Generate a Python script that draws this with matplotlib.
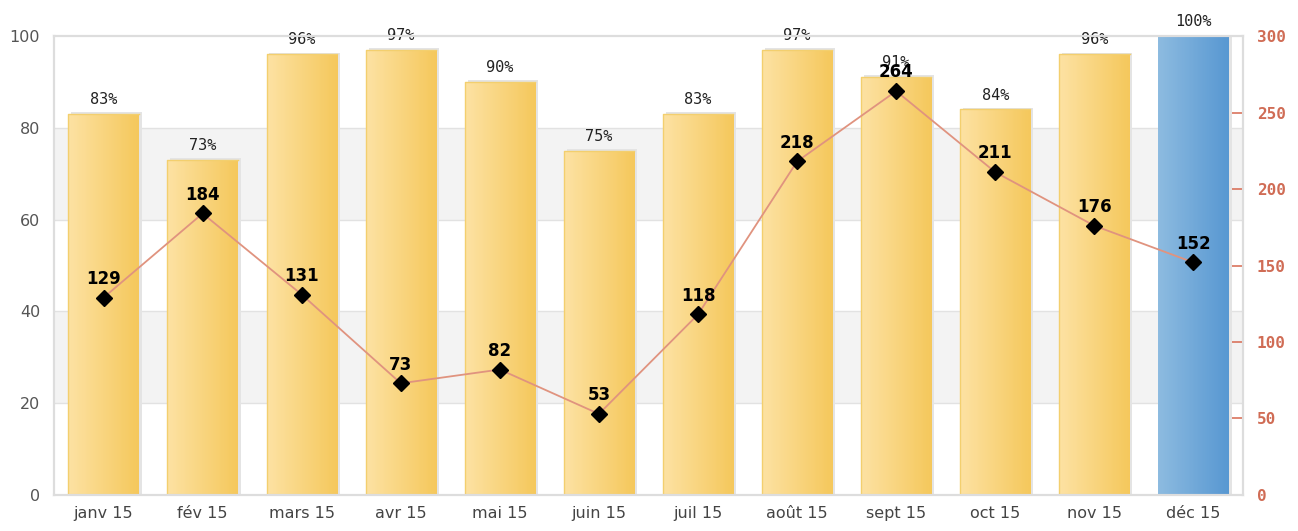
import matplotlib
matplotlib.use('Agg')
import matplotlib.pyplot as plt
import numpy as np

# data
months = ['janv 15', 'fév 15', 'mars 15', 'avr 15', 'mai 15', 'juin 15',
          'juil 15', 'août 15', 'sept 15', 'oct 15', 'nov 15', 'déc 15']
pct = [83, 73, 96, 97, 90, 75, 83, 97, 91, 84, 96, 100]
counts = [129, 184, 131, 73, 82, 53, 118, 218, 264, 211, 176, 152]

fig = plt.figure(figsize=(12.98, 5.31), dpi=100)
ax = fig.add_axes([0.0416, 0.0678, 0.9160, 0.8644])
x = np.arange(len(months))
W = 0.71

# alternating bands
for lo in (20, 60):
    ax.axhspan(lo, lo + 20, color='#f3f3f3', zorder=0, lw=0)
for y in (20, 40, 60, 80):
    ax.axhline(y, color='#e2e2e2', lw=1, zorder=0.5)

yellow = matplotlib.colors.LinearSegmentedColormap.from_list('y', ['#fde2a3', '#f5c85c'])
blue = matplotlib.colors.LinearSegmentedColormap.from_list('b', ['#8dbbe0', '#5898d2'])
grad = np.linspace(0, 1, 64).reshape(1, -1)

# shadows
ax.bar(x + 0.03, np.array(pct) + 0.4, width=W, color='#e4e4e4', zorder=1, lw=0)
bars = ax.bar(x, pct, width=W, color='none', zorder=2, lw=0)
for i, b in enumerate(bars):
    last = i == len(pct) - 1
    cm = blue if last else yellow
    im = ax.imshow(grad, cmap=cm, aspect='auto', zorder=2,
                   extent=(b.get_x(), b.get_x() + b.get_width(), 0, b.get_height()))
    im.set_clip_path(b)
    if not last:
        ax.plot([b.get_x(), b.get_x(), b.get_x() + W], [0, pct[i], pct[i]],
                color='#f3cf6e', lw=1, zorder=2.5)
    ax.text(b.get_x() + b.get_width() / 2, pct[i] + 1.5, f'{pct[i]}%',
            ha='center', va='bottom', fontsize=11, color='#222', zorder=5,
            family='DejaVu Sans Mono')

ax.set_xlim(-0.5, len(months) - 0.5)
ax.set_ylim(0, 100)
ax.set_yticks([0, 20, 40, 60, 80, 100])
ax.set_xticks(x)
ax.set_xticklabels(months, fontsize=11.5, color='#444')
ax.tick_params(axis='y', length=0, labelsize=11.5, labelcolor='#555', pad=10)
ax.tick_params(axis='x', length=0, pad=8)
for s in ax.spines.values():
    s.set_color('#dddddd')
    s.set_linewidth(1.5)

ax2 = ax.twinx()
ax2.set_ylim(0, 300)
ax2.plot(x, counts, color='#e0937f', lw=1.3, marker='D', markersize=8,
         markerfacecolor='black', markeredgecolor='black', zorder=3)
for xi, c in zip(x, counts):
    ax2.annotate(str(c), (xi, c), xytext=(0, 7), textcoords='offset points',
                 ha='center', va='bottom', fontsize=12, fontweight='bold', color='black')
ax2.set_yticks([0, 50, 100, 150, 200, 250, 300])
ax2.tick_params(axis='y', direction='in', length=8, color='#d9735c', width=1.2,
                labelcolor='#d06c55', labelsize=11.5, pad=10)
for lab in ax2.get_yticklabels():
    lab.set_family('DejaVu Sans Mono')
    lab.set_fontweight('bold')
for s in ax2.spines.values():
    s.set_color('#dddddd')
    s.set_linewidth(1.5)

fig.savefig('out.png', dpi=100)
